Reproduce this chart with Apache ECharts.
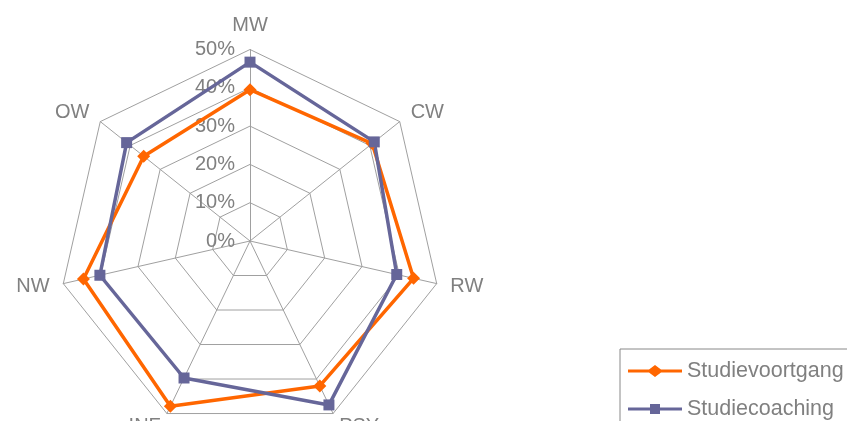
<!DOCTYPE html>
<html>
<head>
<meta charset="utf-8">
<script src="https://cdn.jsdelivr.net/npm/echarts@6/dist/echarts.min.js"></script>
<style>
  html, body { margin: 0; padding: 0; background: #fff; }
  #chart { width: 847px; height: 421px; }
</style>
</head>
<body>
<div id="chart"></div>
<script>
// Study areas, clockwise from the top
const categories = ['MW', 'CW', 'RW', 'PSY', 'INF', 'NW', 'OW'];
// Share per area (%)
const studievoortgang = [39.5, 40.8, 43.8, 42.0, 47.9, 44.6, 35.5];
const studiecoaching = [46.7, 41.5, 39.3, 47.5, 39.7, 40.2, 41.2];
const seriesNames = ['Studievoortgang', 'Studiecoaching'];
// Ring values shown on the vertical axis
const tickMax = 50;
const tickStep = 10;

// ECharts lays radar indicators out counter-clockwise; reorder so they run clockwise
const order = categories.map((_, i) => (i === 0 ? 0 : categories.length - i));
const reorder = arr => order.map(i => arr[i]);

const FONT = '"Liberation Sans", Arial, sans-serif';
const TEXT = '#808080';
const GRID = '#a0a0a0';
const ORANGE = '#FF6600';
const PURPLE = '#666699';

// Legend keys: a line with the series marker in its middle
const lineDiamond = 'path://M0,4.5 L21,4.5 L27,0 L33,4.5 L54,4.5 L54,7.5 L33,7.5 L27,12 L21,7.5 L0,7.5 Z';
const lineSquare = 'path://M0,4.5 L22,4.5 L22,1 L32,1 L32,4.5 L54,4.5 L54,7.5 L32,7.5 L32,11 L22,11 L22,7.5 L0,7.5 Z';

const chart = echarts.init(document.getElementById('chart'), null, { renderer: 'canvas' });
chart.setOption({
  backgroundColor: '#ffffff',
  animation: false,
  textStyle: { fontFamily: FONT },
  radar: {
    center: [250, 241],
    radius: 191.5,
    startAngle: 90,
    shape: 'polygon',
    splitNumber: tickMax / tickStep,
    indicator: reorder(categories).map(name => ({ name, min: 0, max: tickMax })),
    axisName: { color: TEXT, fontSize: 20, fontFamily: FONT },
    nameGap: 14,
    axisLine: { lineStyle: { color: GRID, width: 1 } },
    splitLine: { lineStyle: { color: GRID, width: 1 } },
    splitArea: { show: false },
    axisTick: { show: false },
    axisLabel: { show: false }
  },
  polar: { center: [250, 241], radius: 191.5 },
  angleAxis: { show: false, startAngle: 90, min: 0, max: 360 },
  radiusAxis: {
    min: 0, max: tickMax, interval: tickStep,
    axisLine: { show: false },
    axisTick: { show: false },
    splitLine: { show: false },
    axisLabel: { color: TEXT, fontSize: 20, fontFamily: FONT, margin: 15, formatter: '{value}%' }
  },
  legend: {
    orient: 'vertical',
    left: 620,
    top: 349,
    width: 260,
    height: 120,
    padding: [11, 8, 10, 8],
    itemGap: 16,
    itemWidth: 54,
    itemHeight: 12,
    borderColor: '#888888',
    borderWidth: 1,
    textStyle: { color: TEXT, fontSize: 21.5, fontFamily: FONT },
    data: [
      { name: seriesNames[0], icon: lineDiamond, itemStyle: { color: ORANGE } },
      { name: seriesNames[1], icon: lineSquare, itemStyle: { color: PURPLE } }
    ]
  },
  series: [
    {
      name: seriesNames[0],
      type: 'radar',
      symbol: 'diamond',
      symbolSize: 13,
      itemStyle: { color: ORANGE },
      lineStyle: { color: ORANGE, width: 3.5 },
      data: [{ name: seriesNames[0], value: reorder(studievoortgang) }]
    },
    {
      name: seriesNames[1],
      type: 'radar',
      symbol: 'rect',
      symbolSize: 11,
      itemStyle: { color: PURPLE },
      lineStyle: { color: PURPLE, width: 3.5 },
      data: [{ name: seriesNames[1], value: reorder(studiecoaching) }]
    }
  ]
});
</script>
</body>
</html>
